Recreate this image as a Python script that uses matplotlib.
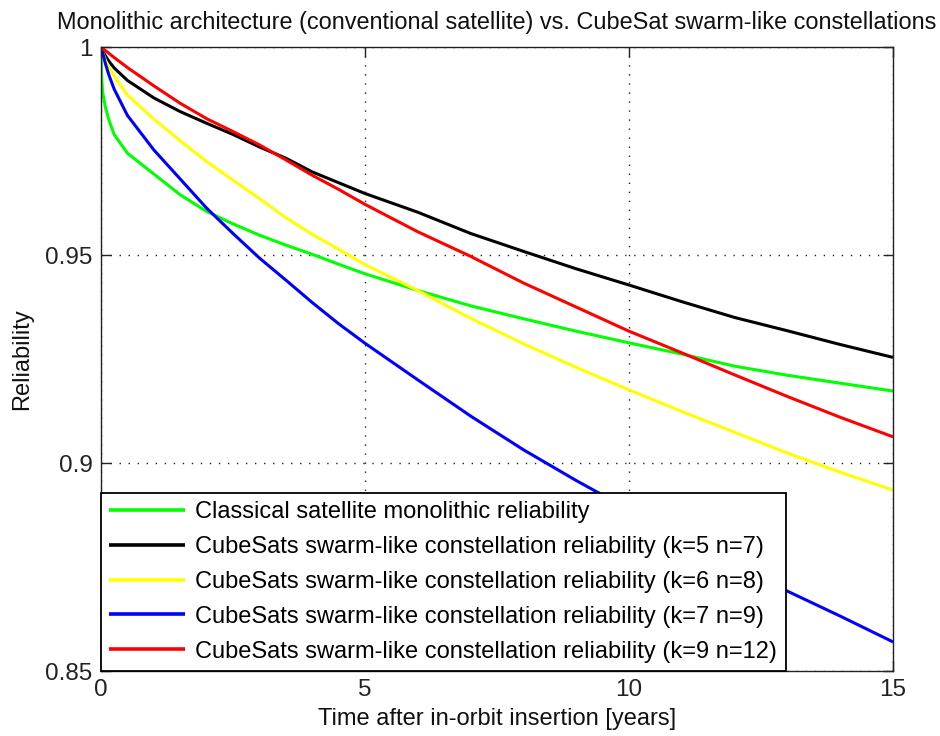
import numpy as np
import matplotlib
matplotlib.use("Agg")
import matplotlib.pyplot as plt

plt.rcParams['font.family'] = ['Liberation Sans', 'DejaVu Sans']

# Time after in-orbit insertion [years]
years = [0, 0.01, 0.03, 0.08, 0.15, 0.25, 0.5, 1, 1.5, 2, 2.5, 3, 3.5, 4,
         4.5, 5, 6, 7, 8, 9, 10, 11, 12, 13, 14, 15]

# Reliability of each architecture
classical = [1.0, 0.9935, 0.9893, 0.9858, 0.9825, 0.9790, 0.9745, 0.9695,
             0.9645, 0.9605, 0.9575, 0.9548, 0.9524, 0.9502, 0.9478, 0.9455,
             0.9415, 0.9378, 0.9347, 0.9317, 0.9289, 0.9262, 0.9233, 0.9211,
             0.9192, 0.9173]
k5_n7 = [1.0, 0.9995, 0.9990, 0.9980, 0.9966, 0.9950, 0.9920, 0.9878,
         0.9845, 0.9817, 0.9790, 0.9760, 0.9733, 0.9700, 0.9674, 0.9648,
         0.9603, 0.9552, 0.9509, 0.9467, 0.9428, 0.9388, 0.9350, 0.9318,
         0.9285, 0.9254]
k6_n8 = [1.0, 0.9995, 0.9988, 0.9970, 0.9952, 0.9930, 0.9885, 0.9827,
         0.9775, 0.9725, 0.9680, 0.9636, 0.9590, 0.9550, 0.9514, 0.9477,
         0.9415, 0.9348, 0.9287, 0.9230, 0.9176, 0.9124, 0.9074, 0.9024,
         0.8978, 0.8935]
k7_n9 = [1.0, 0.9996, 0.9988, 0.9962, 0.9933, 0.9899, 0.9836, 0.9753,
         0.9683, 0.9613, 0.9552, 0.9493, 0.9440, 0.9386, 0.9335, 0.9288,
         0.9200, 0.9113, 0.9032, 0.8958, 0.8888, 0.8820, 0.8755, 0.8692,
         0.8632, 0.8570]
k9_n12 = [1.0, 0.9999, 0.9997, 0.9992, 0.9985, 0.9975, 0.9951, 0.9907,
          0.9865, 0.9828, 0.9797, 0.9765, 0.9729, 0.9692, 0.9658, 0.9622,
          0.9556, 0.9497, 0.9433, 0.9375, 0.9317, 0.9265, 0.9212, 0.9160,
          0.9110, 0.9063]

labels = [
    "Classical satellite monolithic reliability",
    "CubeSats swarm-like constellation reliability (k=5 n=7)",
    "CubeSats swarm-like constellation reliability (k=6 n=8)",
    "CubeSats swarm-like constellation reliability (k=7 n=9)",
    "CubeSats swarm-like constellation reliability (k=9 n=12)",
]
colors = ["#00ff00", "#000000", "#ffff00", "#0000ff", "#ff0000"]
series = [classical, k5_n7, k6_n8, k7_n9, k9_n12]

x_ticks = [0, 5, 10, 15]
y_ticks = [0.85, 0.9, 0.95, 1]
y_tick_labels = ["0.85", "0.9", "0.95", "1"]

fig = plt.figure(figsize=(9.4, 7.36), dpi=100)
ax = fig.add_axes([0.1074, 0.0883, 0.8426, 0.8477])

for vals, col, lab in zip(series, colors, labels):
    ax.plot(years, vals, color=col, lw=2.2, label=lab, solid_capstyle='butt',
            solid_joinstyle='round')

ax.set_xlim(0, 15)
ax.set_ylim(0.85, 1.0)
ax.set_xticks(x_ticks)
ax.set_xticklabels([str(t) for t in x_ticks])
ax.set_yticks(y_ticks)
ax.set_yticklabels(y_tick_labels)

ax.grid(True, linestyle=(0, (1, 5.5)), color='#222222', linewidth=1.0)
ax.tick_params(direction='in', length=7, width=1.0, labelsize=17.5,
               top=True, right=True, pad=6, colors='#222222')
for sp in ax.spines.values():
    sp.set_linewidth(1.0)
    sp.set_color('#222222')

ax.set_title("Monolithic architecture (conventional satellite) vs. CubeSat swarm-like constellations",
             fontsize=16.9, pad=13, color='#111111')
ax.set_xlabel("Time after in-orbit insertion [years]", fontsize=17, labelpad=5,
              color='#111111')
ax.set_ylabel("Reliability", fontsize=17, labelpad=9, color='#111111')

leg = ax.legend(loc='lower left', bbox_to_anchor=(0.0, 0.0), borderaxespad=0.0,
                fancybox=False, framealpha=1.0, edgecolor='#000000',
                fontsize=17, handlelength=3.2, handletextpad=0.45,
                labelspacing=0.55, borderpad=0.35)
leg.get_frame().set_linewidth(1.3)
for line in leg.get_lines():
    line.set_linewidth(2.6)

fig.savefig("out.png", dpi=100, facecolor='white')
